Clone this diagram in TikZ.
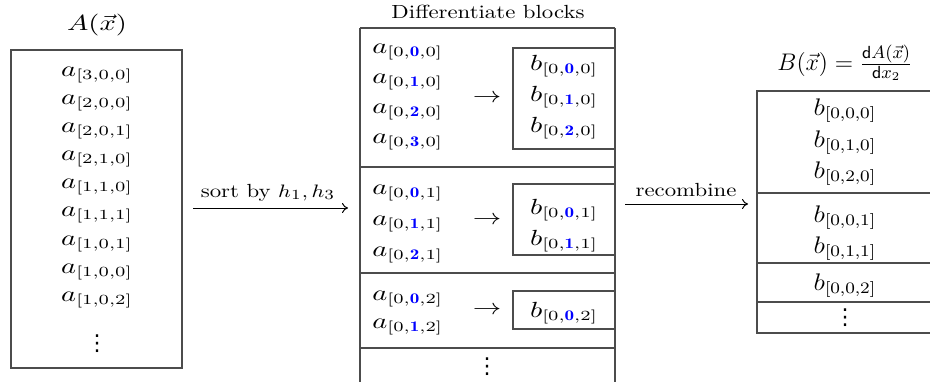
\documentclass[tikz,border=0pt]{standalone}
\usepackage{amsmath}
\usepackage{fontspec}
\newfontfamily\dvfont{DejaVu Sans}
\usetikzlibrary{arrows.meta}
\newcommand{\hs}[1]{\scalebox{1.3}[1]{#1}}
\newcommand{\hb}[1]{\scalebox{1.13}[1]{#1}}
\newcommand{\hlab}[1]{\scalebox{1.2}[1]{#1}}
\newcommand{\mfont}{\fontsize{10.5}{12}\selectfont}
\newcommand{\bfontx}{\fontsize{12}{14}\selectfont}
\newcommand{\btfont}{\fontsize{12.5}{14}\selectfont}
\newcommand{\tfont}{\fontsize{9.5}{11}\selectfont}
\newcommand{\vdfont}{\dvfont\fontsize{11}{12}\selectfont}
\newcommand{\bi}[1]{\textcolor{blue}{\mathbf{#1}}}
\begin{document}
\begin{tikzpicture}[x=0.5pt,y=-0.5pt,
  frame/.style={draw=black!70, line width=0.55pt},
  ent/.style={inner sep=0pt, anchor=base, font=\mfont},
  bent/.style={inner sep=0pt, anchor=base, font=\bfontx},
  entw/.style={inner sep=0pt, anchor=base west, font=\mfont},
  dts/.style={inner sep=0pt, anchor=center, font=\mfont},
  vd/.style={inner sep=0pt, anchor=base, font=\vdfont},
  lbl/.style={inner sep=0pt, anchor=base, font=\tfont},
  conn/.style={-{To[length=3pt,width=5pt]}, line width=0.5pt}]
\path[use as bounding box, clip] (0,0) rectangle (930,381);
% ---- A column
\node[ent] (At) at (97,30) {\hs{$A(\vec{x})$}};
\draw[frame] (11,50) rectangle (182,368);
\node[ent] (a1) at (97,76) {\hs{$a_{[3,0,0]}$}};
\node[ent] (a2) at (97,104) {\hs{$a_{[2,0,0]}$}};
\node[ent] (a3) at (97,132) {\hs{$a_{[2,0,1]}$}};
\node[ent] (a4) at (97,160) {\hs{$a_{[2,1,0]}$}};
\node[ent] (a5) at (97,188) {\hs{$a_{[1,1,0]}$}};
\node[ent] (a6) at (97,216) {\hs{$a_{[1,1,1]}$}};
\node[ent] (a7) at (97,245) {\hs{$a_{[1,0,1]}$}};
\node[ent] (a8) at (97,273) {\hs{$a_{[1,0,0]}$}};
\node[ent] (a9) at (97,301) {\hs{$a_{[1,0,2]}$}};
\node[vd] (ad) at (97,350) {⋮};
% ---- arrow 1
\coordinate (s1) at (193,208);
\coordinate (e1) at (348,208);
\draw[conn] (s1) -- (e1);
\node[lbl] (l1) at (268,197) {\hlab{sort by $h_1,h_3$}};
% ---- middle
\node[lbl] (Dt) at (488,18) {\hlab{Differentiate blocks}};
\draw[frame] (360,28) -- (615,28);
\draw[frame] (360,28) -- (360,400);
\draw[frame] (615,28) -- (615,400);
\draw[frame] (360,167) -- (615,167);
\draw[frame] (360,273) -- (615,273);
\draw[frame] (360,348) -- (615,348);
% section 1
\node[entw] (m1) at (372,53) {\hs{$a_{[0,\bi{0},0]}$}};
\node[entw] (m2) at (372,83) {\hs{$a_{[0,\bi{1},0]}$}};
\node[entw] (m3) at (372,113) {\hs{$a_{[0,\bi{2},0]}$}};
\node[entw] (m4) at (372,143) {\hs{$a_{[0,\bi{3},0]}$}};
\node[dts] (r1) at (487,98) {\hs{$\rightarrow$}};
\draw[frame] (513,48) rectangle (615,149);
\node[ent] (n1) at (564,70) {\hs{$b_{[0,\bi{0},0]}$}};
\node[ent] (n2) at (564,101) {\hs{$b_{[0,\bi{1},0]}$}};
\node[ent] (n3) at (564,132) {\hs{$b_{[0,\bi{2},0]}$}};
% section 2
\node[entw] (m5) at (372,194) {\hs{$a_{[0,\bi{0},1]}$}};
\node[entw] (m6) at (372,225) {\hs{$a_{[0,\bi{1},1]}$}};
\node[entw] (m7) at (372,256) {\hs{$a_{[0,\bi{2},1]}$}};
\node[dts] (r2) at (487,220) {\hs{$\rightarrow$}};
\draw[frame] (513,184) rectangle (615,255);
\node[ent] (n4) at (564,214) {\hs{$b_{[0,\bi{0},1]}$}};
\node[ent] (n5) at (564,245) {\hs{$b_{[0,\bi{1},1]}$}};
% section 3
\node[entw] (m8) at (372,300) {\hs{$a_{[0,\bi{0},2]}$}};
\node[entw] (m9) at (372,328) {\hs{$a_{[0,\bi{1},2]}$}};
\node[dts] (r3) at (487,310) {\hs{$\rightarrow$}};
\draw[frame] (513,291) rectangle (615,329);
\node[ent] (n6) at (564,317) {\hs{$b_{[0,\bi{0},2]}$}};
\node[vd] (md) at (487,373) {⋮};
% ---- arrow 2
\coordinate (s2) at (625,204);
\coordinate (e2) at (748,204);
\draw[conn] (s2) -- (e2);
\node[lbl] (l2) at (686,196) {\hlab{recombine}};
% ---- B column
\node[inner sep=0pt, anchor=center, font=\btfont] (Bt) at (845,63) {$B(\vec{x}) = \frac{\mathsf{d}A(\vec{x})}{\mathsf{d}x_2}$};
\draw[frame] (757,91) rectangle (933,333);
\draw[frame] (757,193) -- (933,193);
\draw[frame] (757,263) -- (933,263);
\draw[frame] (757,302) -- (933,302);
\node[bent] (b1) at (845,115) {\hb{$b_{[0,0,0]}$}};
\node[bent] (b2) at (845,147) {\hb{$b_{[0,1,0]}$}};
\node[bent] (b3) at (845,178) {\hb{$b_{[0,2,0]}$}};
\node[bent] (b4) at (845,222) {\hb{$b_{[0,0,1]}$}};
\node[bent] (b5) at (845,253) {\hb{$b_{[0,1,1]}$}};
\node[bent] (b6) at (845,290) {\hb{$b_{[0,0,2]}$}};
\node[vd] (bd) at (845,324) {⋮};
\end{tikzpicture}
\end{document}
